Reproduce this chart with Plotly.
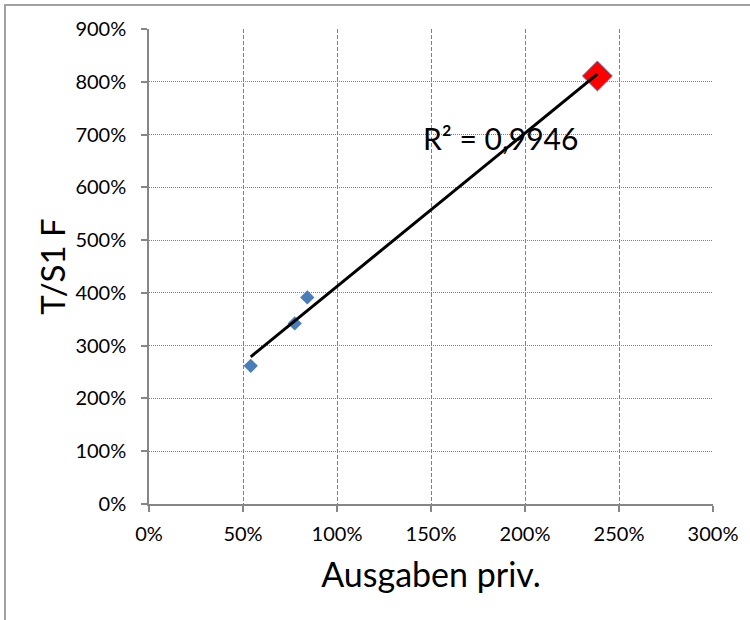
import numpy as np
import plotly.graph_objects as go

# Data (fractions; shown as percent)
x_vals = [0.541, 0.775, 0.842]
y_vals = [2.619, 3.422, 3.915]
highlight_x = [2.385]
highlight_y = [8.11]

x_ticks = [0, 0.5, 1.0, 1.5, 2.0, 2.5, 3.0]
x_tick_labels = ["0%", "50%", "100%", "150%", "200%", "250%", "300%"]
y_ticks = [0, 1, 2, 3, 4, 5, 6, 7, 8, 9]
y_tick_labels = ["0%", "100%", "200%", "300%", "400%", "500%", "600%", "700%", "800%", "900%"]

x_title = "Ausgaben priv."
y_title = "T/S1 F"
r2_text = "R² = 0,9946"

all_x = np.array(x_vals + highlight_x)
all_y = np.array(y_vals + highlight_y)
slope, intercept = np.polyfit(all_x, all_y, 1)
trend_x = np.array([all_x.min(), all_x.max()])
trend_y = slope * trend_x + intercept

FONT = "Lato"

fig = go.Figure()
fig.add_trace(go.Scatter(
    x=x_vals, y=y_vals, mode="markers",
    marker=dict(symbol="diamond", size=11, color="#4a7ebb",
                line=dict(width=0)),
    hoverinfo="skip"))
fig.add_trace(go.Scatter(
    x=highlight_x, y=highlight_y, mode="markers",
    marker=dict(symbol="diamond", size=23, color="#ff0000",
                line=dict(width=1, color="#4a7ebb")),
    hoverinfo="skip"))
fig.add_trace(go.Scatter(
    x=trend_x, y=trend_y, mode="lines",
    line=dict(color="black", width=3),
    hoverinfo="skip"))

fig.add_annotation(
    x=1.87, y=6.93, xref="x", yref="y", text=r2_text, showarrow=False,
    font=dict(family=FONT, size=30, color="black"),
    xanchor="center", yanchor="middle")

# chart-area border (left and top visible)
fig.add_shape(type="rect", xref="paper", yref="paper",
              x0=-0.2553, x1=1.09, y0=-0.28, y1=1.0505,
              line=dict(color="#a0a0a0", width=2), fillcolor="rgba(0,0,0,0)",
              layer="below")

fig.update_layout(
    width=750, height=620,
    margin=dict(l=149, r=37, t=29, b=116),
    paper_bgcolor="white", plot_bgcolor="white",
    showlegend=False,
    font=dict(family=FONT, color="black"),
    xaxis=dict(
        range=[0, 3], tickmode="array", tickvals=x_ticks, ticktext=x_tick_labels,
        showline=True, linecolor="#868686", linewidth=1.5,
        ticks="outside", ticklen=6, tickcolor="#868686", tickwidth=1.5,
        showgrid=True, gridcolor="#808080", gridwidth=1, griddash="4px,2px",
        zeroline=False, tickfont=dict(family=FONT, size=20, color="black"),
        ticklabelstandoff=5,
        title=dict(text=x_title, font=dict(family=FONT, size=34, color="black"),
                   standoff=19),
    ),
    yaxis=dict(
        range=[0, 9], tickmode="array", tickvals=y_ticks, ticktext=y_tick_labels,
        showline=True, linecolor="#868686", linewidth=1.5,
        ticks="outside", ticklen=6, tickcolor="#868686", tickwidth=1.5,
        showgrid=True, gridcolor="#808080", gridwidth=1, griddash="1px,1px",
        zeroline=False, tickfont=dict(family=FONT, size=20, color="black"),
        ticklabelstandoff=11,
        title=dict(text=y_title, font=dict(family=FONT, size=33, color="black"),
                   standoff=0),
    ),
)

fig.write_html("out.html",
               config={"displayModeBar": False},
               post_script="document.body.style.margin='0';document.body.style.overflow='hidden';")
